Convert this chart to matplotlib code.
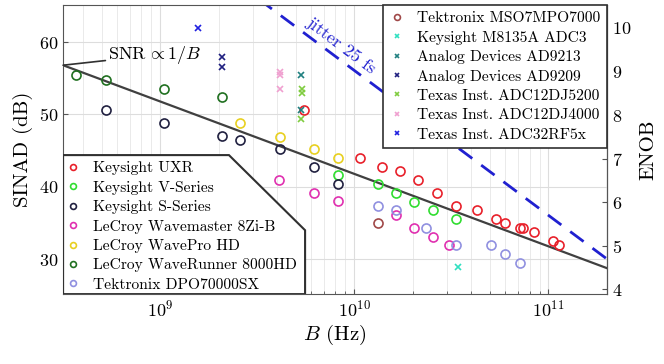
import numpy as np
import matplotlib
matplotlib.use("Agg")
import matplotlib.pyplot as plt
from matplotlib.patches import Polygon

plt.rcParams['font.family'] = 'serif'
plt.rcParams['font.serif'] = ['cmr10', 'DejaVu Serif']
plt.rcParams['mathtext.fontset'] = 'cm'
plt.rcParams['axes.formatter.use_mathtext'] = True

# bandwidth (Hz) and SINAD (dB)
uxr_b = [5.5e9, 1.07e10, 1.39e10, 1.71e10, 2.14e10, 2.68e10, 3.36e10, 4.3e10, 5.4e10,
         6.0e10, 7.1e10, 7.43e10, 8.47e10, 1.06e11, 1.14e11]
uxr_s = [50.6, 44.0, 42.8, 42.2, 41.0, 39.2, 37.4, 36.8, 35.6, 35.0, 34.3, 34.3, 33.8, 32.6, 32.0]
vser_b = [8.2e9, 1.33e10, 1.64e10, 2.04e10, 2.55e10, 3.36e10]
vser_s = [41.7, 40.4, 39.2, 37.9, 36.8, 35.6]
sser_b = [5.25e8, 1.05e9, 2.09e9, 2.58e9, 4.16e9, 6.22e9, 8.2e9]
sser_s = [50.6, 48.8, 47.0, 46.5, 45.2, 42.8, 40.4]
wm_b = [4.1e9, 6.22e9, 8.2e9, 1.64e10, 2.04e10, 2.55e10, 3.06e10]
wm_s = [41.0, 39.2, 38.1, 36.1, 34.3, 33.1, 32.0]
wp_b = [2.58e9, 4.16e9, 6.22e9, 8.2e9]
wp_s = [48.8, 46.9, 45.2, 44.0]
wr_b = [3.69e8, 5.25e8, 1.05e9, 2.09e9]
wr_s = [55.4, 54.8, 53.5, 52.4]
dpo_b = [1.33e10, 1.64e10, 2.35e10, 3.36e10, 5.08e10, 6.0e10, 7.1e10]
dpo_s = [37.4, 36.8, 34.3, 32.0, 32.0, 30.8, 29.5]
mso_b = [1.33e10]
mso_s = [35.0]
m8135_b = [3.44e10]
m8135_s = [29.0]
ad9213_b = [5.33e9, 5.33e9]
ad9213_s = [55.4, 50.6]
ad9209_b = [2.09e9, 2.09e9]
ad9209_s = [57.9, 56.6]
dj5200_b = [5.4e9, 5.4e9, 5.33e9]
dj5200_s = [53.5, 53.0, 49.4]
dj4000_b = [4.16e9, 4.16e9, 4.16e9]
dj4000_s = [55.9, 55.4, 53.5]
rf5x_b = [1.57e9]
rf5x_s = [61.9]

scopes = [
    ("Keysight UXR", uxr_b, uxr_s, "#e8202a"),
    ("Keysight V-Series", vser_b, vser_s, "#30dd30"),
    ("Keysight S-Series", sser_b, sser_s, "#202040"),
    ("LeCroy Wavemaster 8Zi-B", wm_b, wm_s, "#e030b0"),
    ("LeCroy WavePro HD", wp_b, wp_s, "#e8d020"),
    ("LeCroy WaveRunner 8000HD", wr_b, wr_s, "#207020"),
    ("Tektronix DPO70000SX", dpo_b, dpo_s, "#9090e0"),
]
adcs = [
    ("Tektronix MSO7MPO7000", mso_b, mso_s, "#a04848", "o"),
    ("Keysight M8135A ADC3", m8135_b, m8135_s, "#30e0c0", "x"),
    ("Analog Devices AD9213", ad9213_b, ad9213_s, "#208080", "x"),
    ("Analog Devices AD9209", ad9209_b, ad9209_s, "#202080", "x"),
    ("Texas Inst. ADC12DJ5200", dj5200_b, dj5200_s, "#80cc40", "x"),
    ("Texas Inst. ADC12DJ4000", dj4000_b, dj4000_s, "#f0a0d0", "x"),
    ("Texas Inst. ADC32RF5x", rf5x_b, rf5x_s, "#2020e0", "x"),
]

fig = plt.figure(figsize=(6.64, 3.64), dpi=100)
ax = fig.add_axes([0.095, 0.192, 0.819, 0.794])

h1 = []
for name, b, s, c in scopes:
    h, = ax.plot(b, s, 'o', mfc='none', mec=c, mew=1.2, ms=6.5, label=name, zorder=3)
    h1.append(h)
h2 = []
for name, b, s, c, m in adcs:
    if m == 'o':
        h, = ax.plot(b, s, 'o', mfc='none', mec=c, mew=1.2, ms=6.5, label=name, zorder=3)
    else:
        h, = ax.plot(b, s, 'x', color=c, mew=1.2, ms=4, label=name, zorder=3)
    h2.append(h)

# reference lines
bb = np.logspace(8.4, 11.4, 100)
ax.plot(bb, 56.8 - 10 * np.log10(bb / 3.16e8), color='#404040', lw=1.6, zorder=2)
ax.plot(bb, -20 * np.log10(2 * np.pi * bb * 25e-15), color='#2020d0', lw=2,
        ls=(0, (6, 4)), zorder=2)

ax.set_xscale('log')
ax.set_xlim(10**8.5, 2e11)
ax.set_ylim(25.2, 65.1)
ax.set_yticks([30, 40, 50, 60])
ax.grid(True, which='major', color='#dddddd', lw=0.8)
ax.grid(True, which='minor', axis='x', color='#e6e6e6', lw=0.6)
ax.tick_params(which='both', direction='in', labelsize=13, color='#555555')
ax.tick_params(axis='y', right=False)
for sp in ax.spines.values():
    sp.set_color('#555555')
ax.set_xlabel(r'$B$ (Hz)', fontsize=15, labelpad=2)
ax.set_ylabel('SINAD (dB)', fontsize=15, labelpad=4)

sec = ax.secondary_yaxis('right', functions=(lambda s: (s - 1.76) / 6.02,
                                             lambda e: e * 6.02 + 1.76))
sec.set_yticks([4, 5, 6, 7, 8, 9, 10])
sec.tick_params(direction='in', labelsize=13, color='#555555')
sec.set_ylabel('ENOB', fontsize=15, labelpad=6)

ax.annotate(r'SNR$\,\propto 1/B$', xy=(10**8.5, 56.8), xytext=(5.4e8, 58.2),
            fontsize=13, va='center', ha='left',
            arrowprops=dict(arrowstyle='-', color='#303030', lw=1.2, shrinkA=0, shrinkB=0))
ax.text(8.6e9, 59.5, 'jitter 25 fs', color='#2020d0', fontsize=13, rotation=-37,
        ha='center', va='center', rotation_mode='anchor')

leg1 = ax.legend(handles=h2, loc='upper right', fontsize=11.2, borderaxespad=0,
                 handlelength=1.0, handletextpad=0.8, labelspacing=0.35,
                 fancybox=False, edgecolor='#303030', framealpha=1, markerscale=0.65)
leg1.get_frame().set_linewidth(1.2)
leg1.set_zorder(6)
ax.add_artist(leg1)

poly = Polygon([(0, 0.481), (0.305, 0.481), (0.445, 0.221), (0.445, 0), (0, 0)],
               closed=True, transform=ax.transAxes, facecolor='white',
               edgecolor='#303030', lw=1.5, zorder=5)
ax.add_patch(poly)
leg2 = ax.legend(handles=h1, loc='lower left', fontsize=11.2, borderaxespad=0,
                 borderpad=0.15, handlelength=1.0, handletextpad=0.8, labelspacing=0.35,
                 frameon=False, markerscale=0.65)
leg2.set_zorder(6)

fig.savefig('out.png', dpi=100)
